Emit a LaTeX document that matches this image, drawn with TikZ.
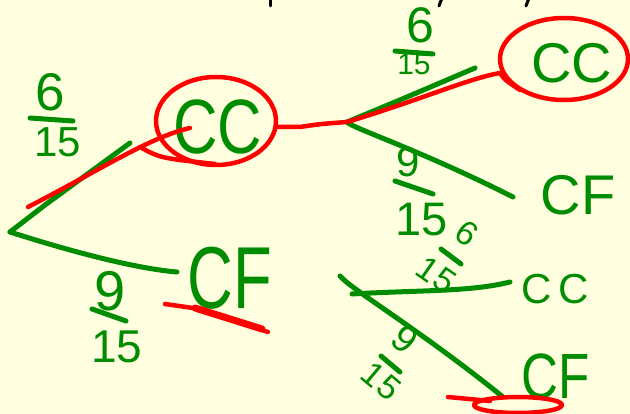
\documentclass[tikz,border=0pt]{standalone}
\usepackage{fontspec}
\setmainfont{Liberation Sans}
\definecolor{bg}{RGB}{255,255,224}
\definecolor{pg}{RGB}{0,140,0}
\definecolor{pr}{RGB}{255,0,0}
\newcommand\hwsize[1]{\fontsize{#1}{#1}\selectfont}
\begin{document}
\begin{tikzpicture}[x=1pt,y=-1pt,line cap=round,line join=round,
  gline/.style={draw=pg,line width=5pt},
  rline/.style={draw=pr,line width=4.5pt},
  bline/.style={draw=black,line width=3pt},
  lbl/.style={text=pg,inner sep=0pt}]
\fill[bg] (0,0) rectangle (630,414);
\useasboundingbox (0,0) rectangle (630,414);

% black marks at the top edge
\draw[bline] (270,-2) -- (270,6);
\draw[bline] (442,-2) -- (439,6);
\draw[bline] (529,-2) -- (526,6);

% outcome nodes
\node[lbl] (cc1) at (218,127) {\hwsize{77}\scalebox{0.8}[1]{CC}};
\node[lbl] (cf1) at (230,278) {\hwsize{88}\scalebox{0.72}[1]{CF}};
\node[lbl] (cc2) at (572,63) {\hwsize{56}CC};
\node[lbl] (cf2) at (578,195) {\hwsize{56}CF};
\node[lbl] (cc3) at (555,289) {\hwsize{42}C\,C};
\node[lbl] (cf3) at (556,376) {\hwsize{64}\scalebox{0.8}[1]{CF}};

% branch points and free ends
\coordinate (r) at (10,232);
\coordinate (b2) at (347,122);
\coordinate (b3) at (352,294);
\coordinate (e1) at (130,143);
\coordinate (e2) at (177,272);
\coordinate (e3) at (475,68);
\coordinate (e4) at (513,197);
\coordinate (e5) at (510,282);
\coordinate (e6) at (503,397);
\coordinate (t3) at (340,276);

% green tree
\draw[gline] (r) -- (45,205) -- (e1);
\draw[gline] (r) .. controls (60,248) and (130,268) .. (e2);
\draw[gline] (b2) .. controls (400,100) .. (e3);
\draw[gline] (b2) .. controls (352,128) and (420,150) .. (e4);
\draw[gline] (t3) .. controls (352,290) and (420,330) .. (e6);
\draw[gline] (b3) .. controls (420,290) and (470,292) .. (e5);

% probability labels
\node[lbl] (n1) at (50,92) {\hwsize{53}6};
\node[lbl] (d1) at (58,142) {\hwsize{42}15};
\draw[gline] (30,118) -- (73,121);

\node[lbl] (n2) at (110,291) {\hwsize{56}9};
\node[lbl] (d2) at (117,347) {\hwsize{46}15};
\draw[gline] (92,309) -- (126,321);

\node[lbl] (n3) at (420,25) {\hwsize{50}6};
\node[lbl] (d3) at (414,64) {\hwsize{30}15};
\draw[gline] (395,51) -- (433,54);

\node[lbl] (n4) at (408,162) {\hwsize{42}9};
\node[lbl] (d4) at (422,220) {\hwsize{47}15};
\draw[gline] (395,181) -- (433,194);

\node[lbl,rotate=-35] (n5) at (467,233) {\hwsize{34}6};
\node[lbl,rotate=-35] (d5) at (436,275) {\hwsize{34}1\kern2pt5};
\draw[gline] (441,249) -- (461,264);

\node[lbl,rotate=-40] (n6) at (405,339) {\hwsize{38}9};
\node[lbl,rotate=-40] (d6) at (381,381) {\hwsize{34}1\kern2pt5};
\draw[gline] (381,356) -- (400,372);

% red highlighting
\draw[rline] (28,207) .. controls (100,170) and (150,137) .. (190,128);
\draw[rline] (216,121) ellipse [x radius=60pt,y radius=44pt];
\draw[rline] (140,147) .. controls (160,158) .. (215,164);
\draw[rline] (cc1.east) ++(14,0) -- (300,127) .. controls (320,124) .. (b2)
  .. controls (420,100) and (470,78) .. (500,73) .. controls (505,80) .. (520,90);
\draw[rline] (564,59) ellipse [x radius=64pt,y radius=41pt];
\draw[rline] (165,304) -- (200,309) -- (268,332);
\draw[draw=pr,line width=7pt] (195,308) -- (262,329);
\draw[rline] (518,405) ellipse [x radius=44pt,y radius=8pt];
\draw[rline] (448,397) -- (490,401);
\end{tikzpicture}
\end{document}
